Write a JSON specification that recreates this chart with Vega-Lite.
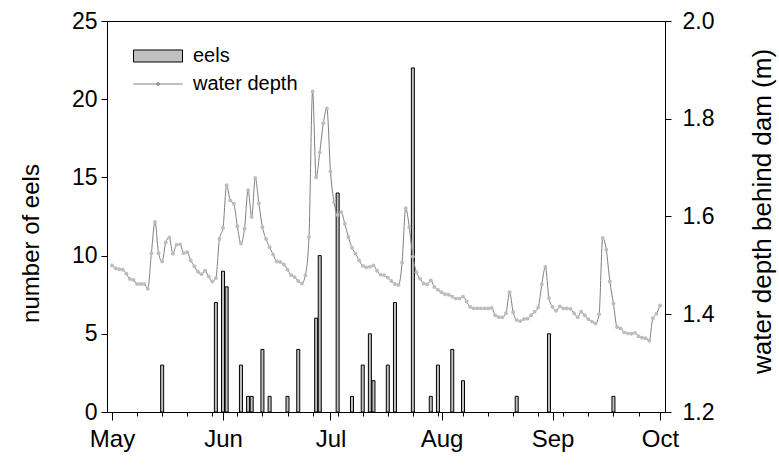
{
  "$schema": "https://vega.github.io/schema/vega-lite/v6.json",
  "width": 558,
  "height": 391,
  "autosize": {"type": "none"},
  "padding": {"left": 107, "top": 21, "right": 114, "bottom": 53},
  "config": {
    "font": "Liberation Sans",
    "view": {"stroke": "black", "strokeWidth": 1},
    "axis": {"domainColor": "black", "tickColor": "black", "labelColor": "black", "titleColor": "black", "grid": false, "labelFont": "Liberation Sans", "titleFont": "Liberation Sans", "labelFontSize": 23, "titleFontSize": 24, "titleFontWeight": "normal", "domainWidth": 1, "tickWidth": 1},
    "legend": {"labelFont": "Liberation Sans", "labelColor": "black", "labelFontSize": 20}
  },
  "datasets": {
    "eels": [
      {"date": "2003-05-15", "eels": 3},
      {"date": "2003-05-30", "eels": 7},
      {"date": "2003-06-01", "eels": 9},
      {"date": "2003-06-02", "eels": 8},
      {"date": "2003-06-06", "eels": 3},
      {"date": "2003-06-08", "eels": 1},
      {"date": "2003-06-09", "eels": 1},
      {"date": "2003-06-12", "eels": 4},
      {"date": "2003-06-14", "eels": 1},
      {"date": "2003-06-19", "eels": 1},
      {"date": "2003-06-22", "eels": 4},
      {"date": "2003-06-27", "eels": 6},
      {"date": "2003-06-28", "eels": 10},
      {"date": "2003-07-03", "eels": 14},
      {"date": "2003-07-07", "eels": 1},
      {"date": "2003-07-10", "eels": 3},
      {"date": "2003-07-12", "eels": 5},
      {"date": "2003-07-13", "eels": 2},
      {"date": "2003-07-17", "eels": 3},
      {"date": "2003-07-19", "eels": 7},
      {"date": "2003-07-24", "eels": 22},
      {"date": "2003-07-29", "eels": 1},
      {"date": "2003-07-31", "eels": 3},
      {"date": "2003-08-04", "eels": 4},
      {"date": "2003-08-07", "eels": 2},
      {"date": "2003-08-22", "eels": 1},
      {"date": "2003-08-31", "eels": 5},
      {"date": "2003-09-18", "eels": 1}
    ],
    "depth": [
      {"date": "2003-05-01", "depth": 1.500}, {"date": "2003-05-02", "depth": 1.494}, {"date": "2003-05-03", "depth": 1.492}, {"date": "2003-05-04", "depth": 1.491}, {"date": "2003-05-05", "depth": 1.483}, {"date": "2003-05-06", "depth": 1.472}, {"date": "2003-05-07", "depth": 1.470}, {"date": "2003-05-08", "depth": 1.462}, {"date": "2003-05-09", "depth": 1.462}, {"date": "2003-05-10", "depth": 1.462}, {"date": "2003-05-11", "depth": 1.452}, {"date": "2003-05-12", "depth": 1.525}, {"date": "2003-05-13", "depth": 1.589}, {"date": "2003-05-14", "depth": 1.525}, {"date": "2003-05-15", "depth": 1.508}, {"date": "2003-05-16", "depth": 1.547}, {"date": "2003-05-17", "depth": 1.557}, {"date": "2003-05-18", "depth": 1.524}, {"date": "2003-05-19", "depth": 1.542}, {"date": "2003-05-20", "depth": 1.543}, {"date": "2003-05-21", "depth": 1.525}, {"date": "2003-05-22", "depth": 1.527}, {"date": "2003-05-23", "depth": 1.510}, {"date": "2003-05-24", "depth": 1.498}, {"date": "2003-05-25", "depth": 1.487}, {"date": "2003-05-26", "depth": 1.482}, {"date": "2003-05-27", "depth": 1.489}, {"date": "2003-05-28", "depth": 1.477}, {"date": "2003-05-29", "depth": 1.467}, {"date": "2003-05-30", "depth": 1.474}, {"date": "2003-05-31", "depth": 1.554},
      {"date": "2003-06-01", "depth": 1.577}, {"date": "2003-06-02", "depth": 1.664}, {"date": "2003-06-03", "depth": 1.633}, {"date": "2003-06-04", "depth": 1.626}, {"date": "2003-06-05", "depth": 1.580}, {"date": "2003-06-06", "depth": 1.545}, {"date": "2003-06-07", "depth": 1.575}, {"date": "2003-06-08", "depth": 1.654}, {"date": "2003-06-09", "depth": 1.599}, {"date": "2003-06-10", "depth": 1.679}, {"date": "2003-06-11", "depth": 1.627}, {"date": "2003-06-12", "depth": 1.578}, {"date": "2003-06-13", "depth": 1.554}, {"date": "2003-06-14", "depth": 1.537}, {"date": "2003-06-15", "depth": 1.522}, {"date": "2003-06-16", "depth": 1.508}, {"date": "2003-06-17", "depth": 1.507}, {"date": "2003-06-18", "depth": 1.502}, {"date": "2003-06-19", "depth": 1.491}, {"date": "2003-06-20", "depth": 1.480}, {"date": "2003-06-21", "depth": 1.476}, {"date": "2003-06-22", "depth": 1.468}, {"date": "2003-06-23", "depth": 1.463}, {"date": "2003-06-24", "depth": 1.480}, {"date": "2003-06-25", "depth": 1.558}, {"date": "2003-06-26", "depth": 1.856}, {"date": "2003-06-27", "depth": 1.680}, {"date": "2003-06-28", "depth": 1.731}, {"date": "2003-06-29", "depth": 1.791}, {"date": "2003-06-30", "depth": 1.821},
      {"date": "2003-07-01", "depth": 1.692}, {"date": "2003-07-02", "depth": 1.629}, {"date": "2003-07-03", "depth": 1.603}, {"date": "2003-07-04", "depth": 1.609}, {"date": "2003-07-05", "depth": 1.585}, {"date": "2003-07-06", "depth": 1.558}, {"date": "2003-07-07", "depth": 1.536}, {"date": "2003-07-08", "depth": 1.524}, {"date": "2003-07-09", "depth": 1.510}, {"date": "2003-07-10", "depth": 1.499}, {"date": "2003-07-11", "depth": 1.496}, {"date": "2003-07-12", "depth": 1.497}, {"date": "2003-07-13", "depth": 1.500}, {"date": "2003-07-14", "depth": 1.489}, {"date": "2003-07-15", "depth": 1.481}, {"date": "2003-07-16", "depth": 1.480}, {"date": "2003-07-17", "depth": 1.475}, {"date": "2003-07-18", "depth": 1.468}, {"date": "2003-07-19", "depth": 1.462}, {"date": "2003-07-20", "depth": 1.460}, {"date": "2003-07-21", "depth": 1.506}, {"date": "2003-07-22", "depth": 1.617}, {"date": "2003-07-23", "depth": 1.578}, {"date": "2003-07-24", "depth": 1.518}, {"date": "2003-07-25", "depth": 1.486}, {"date": "2003-07-26", "depth": 1.473}, {"date": "2003-07-27", "depth": 1.463}, {"date": "2003-07-28", "depth": 1.461}, {"date": "2003-07-29", "depth": 1.469}, {"date": "2003-07-30", "depth": 1.456}, {"date": "2003-07-31", "depth": 1.450},
      {"date": "2003-08-01", "depth": 1.445}, {"date": "2003-08-02", "depth": 1.441}, {"date": "2003-08-03", "depth": 1.440}, {"date": "2003-08-04", "depth": 1.436}, {"date": "2003-08-05", "depth": 1.432}, {"date": "2003-08-06", "depth": 1.432}, {"date": "2003-08-07", "depth": 1.436}, {"date": "2003-08-08", "depth": 1.426}, {"date": "2003-08-09", "depth": 1.415}, {"date": "2003-08-10", "depth": 1.412}, {"date": "2003-08-11", "depth": 1.412}, {"date": "2003-08-12", "depth": 1.412}, {"date": "2003-08-13", "depth": 1.412}, {"date": "2003-08-14", "depth": 1.412}, {"date": "2003-08-15", "depth": 1.413}, {"date": "2003-08-16", "depth": 1.398}, {"date": "2003-08-17", "depth": 1.394}, {"date": "2003-08-18", "depth": 1.394}, {"date": "2003-08-19", "depth": 1.402}, {"date": "2003-08-20", "depth": 1.445}, {"date": "2003-08-21", "depth": 1.404}, {"date": "2003-08-22", "depth": 1.388}, {"date": "2003-08-23", "depth": 1.386}, {"date": "2003-08-24", "depth": 1.390}, {"date": "2003-08-25", "depth": 1.391}, {"date": "2003-08-26", "depth": 1.398}, {"date": "2003-08-27", "depth": 1.405}, {"date": "2003-08-28", "depth": 1.414}, {"date": "2003-08-29", "depth": 1.461}, {"date": "2003-08-30", "depth": 1.497}, {"date": "2003-08-31", "depth": 1.433},
      {"date": "2003-09-01", "depth": 1.415}, {"date": "2003-09-02", "depth": 1.407}, {"date": "2003-09-03", "depth": 1.416}, {"date": "2003-09-04", "depth": 1.412}, {"date": "2003-09-05", "depth": 1.412}, {"date": "2003-09-06", "depth": 1.411}, {"date": "2003-09-07", "depth": 1.402}, {"date": "2003-09-08", "depth": 1.394}, {"date": "2003-09-09", "depth": 1.405}, {"date": "2003-09-10", "depth": 1.398}, {"date": "2003-09-11", "depth": 1.390}, {"date": "2003-09-12", "depth": 1.385}, {"date": "2003-09-13", "depth": 1.381}, {"date": "2003-09-14", "depth": 1.400}, {"date": "2003-09-15", "depth": 1.556}, {"date": "2003-09-16", "depth": 1.532}, {"date": "2003-09-17", "depth": 1.467}, {"date": "2003-09-18", "depth": 1.422}, {"date": "2003-09-19", "depth": 1.374}, {"date": "2003-09-20", "depth": 1.371}, {"date": "2003-09-21", "depth": 1.363}, {"date": "2003-09-22", "depth": 1.361}, {"date": "2003-09-23", "depth": 1.360}, {"date": "2003-09-24", "depth": 1.362}, {"date": "2003-09-25", "depth": 1.355}, {"date": "2003-09-26", "depth": 1.352}, {"date": "2003-09-27", "depth": 1.351}, {"date": "2003-09-28", "depth": 1.346}, {"date": "2003-09-29", "depth": 1.392}, {"date": "2003-09-30", "depth": 1.401},
      {"date": "2003-10-01", "depth": 1.418}
    ]
  },
  "encoding": {
    "x": {
      "field": "date",
      "type": "temporal",
      "scale": {"type": "utc", "nice": false, "domain": [{"year": 2003, "month": 5, "date": 1, "utc": true}, {"year": 2003, "month": 10, "date": 1, "utc": true}]},
      "axis": {
        "title": null,
        "orient": "bottom",
        "values": [
          {"year": 2003, "month": 5, "date": 1, "utc": true}, {"year": 2003, "month": 5, "date": 8, "utc": true}, {"year": 2003, "month": 5, "date": 15, "utc": true}, {"year": 2003, "month": 5, "date": 22, "utc": true}, {"year": 2003, "month": 5, "date": 29, "utc": true},
          {"year": 2003, "month": 6, "date": 1, "utc": true}, {"year": 2003, "month": 6, "date": 5, "utc": true}, {"year": 2003, "month": 6, "date": 12, "utc": true}, {"year": 2003, "month": 6, "date": 19, "utc": true}, {"year": 2003, "month": 6, "date": 26, "utc": true},
          {"year": 2003, "month": 7, "date": 1, "utc": true}, {"year": 2003, "month": 7, "date": 3, "utc": true}, {"year": 2003, "month": 7, "date": 10, "utc": true}, {"year": 2003, "month": 7, "date": 17, "utc": true}, {"year": 2003, "month": 7, "date": 24, "utc": true}, {"year": 2003, "month": 7, "date": 31, "utc": true},
          {"year": 2003, "month": 8, "date": 1, "utc": true}, {"year": 2003, "month": 8, "date": 7, "utc": true}, {"year": 2003, "month": 8, "date": 14, "utc": true}, {"year": 2003, "month": 8, "date": 21, "utc": true}, {"year": 2003, "month": 8, "date": 28, "utc": true},
          {"year": 2003, "month": 9, "date": 1, "utc": true}, {"year": 2003, "month": 9, "date": 4, "utc": true}, {"year": 2003, "month": 9, "date": 11, "utc": true}, {"year": 2003, "month": 9, "date": 18, "utc": true}, {"year": 2003, "month": 9, "date": 25, "utc": true},
          {"year": 2003, "month": 10, "date": 1, "utc": true}
        ],
        "labelExpr": "utcdate(datum.value) == 1 ? utcFormat(datum.value, '%b') : ''",
        "tickSize": {"condition": {"test": "utcdate(datum.value) == 1", "value": 8}, "value": 4},
        "labelPadding": 7,
        "labelFontSize": 24,
        "labelFlush": false,
        "labelOverlap": false,
        "labelDx": -5
      }
    }
  },
  "layer": [
    {
      "data": {"name": "eels"},
      "mark": {"type": "bar", "width": 3, "stroke": "black", "strokeWidth": 1},
      "encoding": {
        "y": {"field": "eels", "type": "quantitative", "scale": {"domain": [0, 25], "nice": false}, "axis": {"title": "number of eels", "orient": "left", "values": [0, 5, 10, 15, 20, 25], "tickSize": 6, "labelPadding": 4, "titlePadding": 28, "titleY": 222}},
        "fill": {"datum": "eels", "type": "nominal", "scale": {"range": ["#c0c0c0"]}, "legend": {"title": null, "orient": "none", "legendX": 26, "legendY": 10, "padding": 0, "symbolType": "M-1,-0.245H1V0.245H-1Z", "symbolSize": 2401, "symbolStrokeColor": "black", "symbolStrokeWidth": 1, "labelOffset": 10}}
      }
    },
    {
      "data": {"name": "depth"},
      "encoding": {
        "y": {"field": "depth", "type": "quantitative", "scale": {"domain": [1.2, 2.0], "nice": false}, "axis": {"title": "water depth behind dam (m)", "orient": "right", "values": [1.2, 1.4, 1.6, 1.8, 2.0], "format": ".1f", "tickSize": 6, "labelPadding": 11, "titlePadding": 36, "titleAngle": 270, "titleBaseline": "top", "titleFontSize": 26, "titleY": 190}}
      },
      "layer": [
        {
          "mark": {"type": "line", "interpolate": "monotone", "strokeWidth": 1},
          "encoding": {
            "stroke": {"datum": "water depth", "type": "nominal", "scale": {"range": ["#7f7f7f"]}, "legend": {"title": null, "orient": "none", "legendX": 26, "legendY": 38, "padding": 0, "symbolType": "M-1,0H1M-0.06,0A0.06,0.06 0 1,0 0.06,0A0.06,0.06 0 1,0 -0.06,0", "symbolSize": 2401, "symbolStrokeWidth": 1, "labelOffset": 10}}
          }
        },
        {
          "mark": {"type": "point", "filled": true, "color": "#bdbdbd", "size": 15, "opacity": 1}
        }
      ]
    }
  ],
  "resolve": {"scale": {"y": "independent"}}
}
